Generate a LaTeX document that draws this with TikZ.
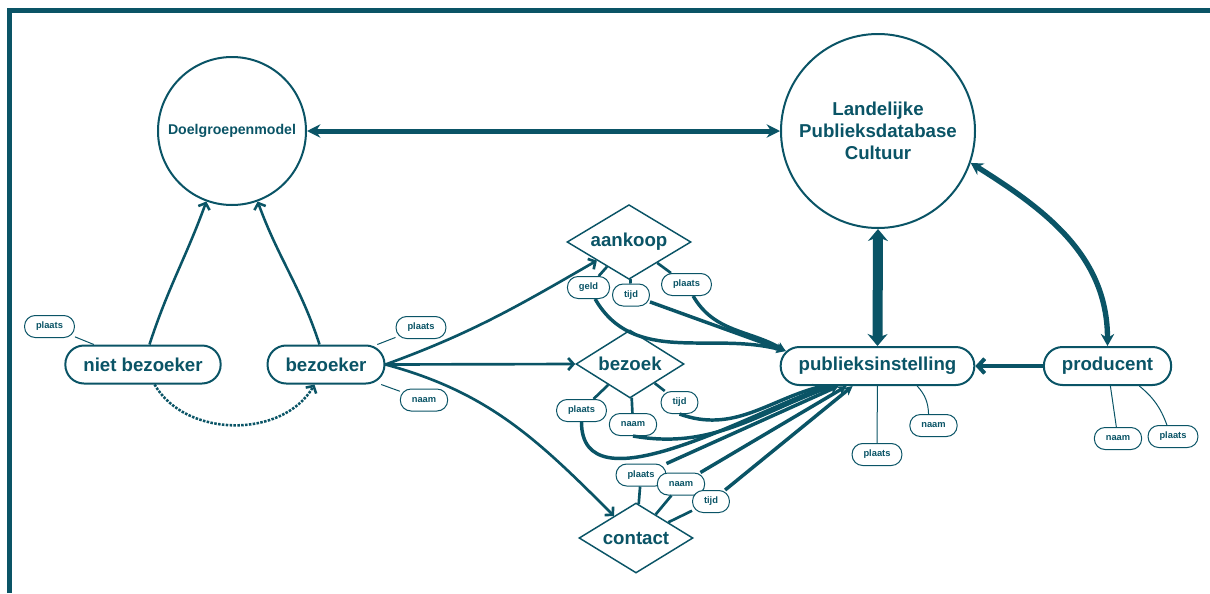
\documentclass[tikz,border=0pt]{standalone}
\usepackage{fontspec}
\setmainfont{Liberation Sans}
\usetikzlibrary{shapes.geometric,arrows.meta}
\definecolor{petrol}{HTML}{0A5466}
\begin{document}
\begin{tikzpicture}[x=0.75pt,y=-0.75pt,
    every node/.style={text=petrol},
    entiteit/.style={draw=petrol,fill=white,line width=1.5pt,rounded corners=14pt,minimum height=28.5pt,inner xsep=13.5pt,inner ysep=0pt,font=\bfseries\fontsize{14}{16}\selectfont},
    kenmerk/.style={draw=petrol,fill=white,line width=0.75pt,rounded corners=8pt,minimum height=16.5pt,inner xsep=8.6pt,inner ysep=0pt,font=\bfseries\fontsize{7}{8}\selectfont},
    relatie/.style={diamond,aspect=1.65,draw=petrol,fill=white,line width=1.1pt,inner sep=0pt,font=\bfseries\fontsize{14}{16}\selectfont},
    bol/.style={circle,draw=petrol,fill=white,line width=1.5pt,inner sep=0pt,align=center,font=\bfseries\fontsize{14}{16.3}\selectfont},
    lijn/.style={draw=petrol,line width=0.75pt},
    link/.style={draw=petrol,line width=2pt},
    pijl/.style={-{Straight Barb[length=4pt,width=9pt]}},
    feed/.style={draw=petrol,line width=2.6pt,-{Stealth[length=7pt,width=7pt]}}]
        \useasboundingbox (0,0) rectangle (1210,593);
        \draw[petrol,line width=3.75pt] (9.5,593) -- (9.5,10) -- (1210,10);
        \node[bol,minimum size=111pt,font=\bfseries\fontsize{10.6}{12}\selectfont] (doel) at (232,131){Doelgroepenmodel};
        \node[bol,minimum size=145.5pt] (lpc) at (878,131){Landelijke\\Publieksdatabase\\Cultuur};
        \node[entiteit] (niet) at (143,364.5){niet bezoeker};
        \node[entiteit] (bez) at (326,364.5){bezoeker};
        \node[entiteit] (pub) at (877.5,366){publieksinstelling};
        \node[entiteit] (prod) at (1107.5,366){producent};
        \node[relatie,minimum width=93pt,minimum height=56pt] (aankoop) at (629,242){aankoop};
        \node[relatie,minimum width=81pt,minimum height=51pt] (bezoek) at (630,364){bezoek};
        \node[relatie,minimum width=85.5pt,minimum height=52.5pt] (contact) at (636,538){contact};
        \node[kenmerk] (pniet) at (49.5,326.5){plaats};
        \node[kenmerk] (pbez) at (421,327.5){plaats};
        \node[kenmerk] (nbez) at (424,400){naam};
        \node[kenmerk] (ageld) at (588.5,287.5){geld};
        \node[kenmerk] (atijd) at (631,295){tijd};
        \node[kenmerk] (aplaats) at (686.5,284.5){plaats};
        \node[kenmerk] (bplaats) at (581.5,410.5){plaats};
        \node[kenmerk] (bnaam) at (633,424.5){naam};
        \node[kenmerk] (btijd) at (679.5,402.5){tijd};
        \node[kenmerk] (cplaats) at (641,475){plaats};
        \node[kenmerk] (cnaam) at (681,484){naam};
        \node[kenmerk] (ctijd) at (711,501.5){tijd};
        \node[kenmerk] (pnaam) at (933.5,425.5){naam};
        \node[kenmerk] (pplaats) at (877,454.5){plaats};
        \node[kenmerk] (prnaam) at (1118,438.5){naam};
        \node[kenmerk] (prplaats) at (1173,436.5){plaats};
        \draw[petrol,line width=3.75pt,{Stealth[length=10pt,width=10pt]}-{Stealth[length=10pt,width=10pt]}] (doel) -- (lpc);
        \draw[petrol,line width=7.5pt,{Stealth[length=9pt,width=15pt]}-{Stealth[length=9pt,width=15pt]}] (lpc.south) -- (pub.north);
        \draw[petrol,line width=4pt,{Stealth[length=9pt,width=10pt]}-{Stealth[length=9pt,width=10pt]}] (lpc.-19) to[out=-32,in=90] (prod);
        \draw[petrol,line width=3pt,-{Straight Barb[length=5pt,width=11pt]}] (prod.west) -- (pub.east);
        \draw[link,line width=1.9pt,pijl] (niet) to[out=72,in=250] (doel);
        \draw[link,line width=1.9pt,pijl] (bez) to[out=108,in=290] (doel);
        \draw[link,line width=1.9pt,densely dotted,pijl] (niet) to[out=-60,in=-120] (bez);
        \draw[link,pijl] (bez.east) to[out=20,in=210] (aankoop);
        \draw[link,pijl] (bez.east) -- (bezoek.west);
        \draw[link,pijl] (bez.east) to[out=-15,in=135] (contact);
        \draw[link] (aankoop) -- (ageld);
        \draw[link] (aankoop) -- (atijd);
        \draw[link] (aankoop) -- (aplaats);
        \draw[link] (bezoek) -- (bplaats);
        \draw[link] (bezoek) -- (bnaam);
        \draw[link] (bezoek) -- (btijd);
        \draw[link] (contact) -- (cplaats);
        \draw[link] (contact) -- (cnaam);
        \draw[link] (contact) -- (ctijd);
        \draw[feed] (ageld) to[out=-60,in=165] ([shift={(6,5)}]pub.north west);
        \draw[feed] (atijd) to[out=-20,in=160] ([shift={(6,5)}]pub.north west);
        \draw[feed] (aplaats) to[out=-60,in=150] ([shift={(6,5)}]pub.north west);
        \draw[feed] (btijd.south) to[out=-20,in=195] ([shift={(43,0)}]pub.south west);
        \draw[feed] (bnaam.south) to[out=-10,in=200] ([shift={(53,0)}]pub.south west);
        \draw[feed] (bplaats) to[out=-90,in=200,looseness=0.9] ([shift={(48,0)}]pub.south west);
        \draw[feed] (cplaats) -- ([shift={(59,0)}]pub.south west);
        \draw[feed] (cnaam) -- ([shift={(67,0)}]pub.south west);
        \draw[feed] (ctijd) -- ([shift={(73,0)}]pub.south west);
        \draw[lijn] (niet) -- (pniet);
        \draw[lijn] (bez) -- (pbez);
        \draw[lijn] (bez) -- (nbez);
        \draw[lijn] (pub) -- (pplaats);
        \draw[lijn] (pub) to[bend left=20] (pnaam);
        \draw[lijn] (prod) -- (prnaam);
        \draw[lijn] (prod) to[bend left=15] (prplaats);
    \end{tikzpicture}
\end{document}
